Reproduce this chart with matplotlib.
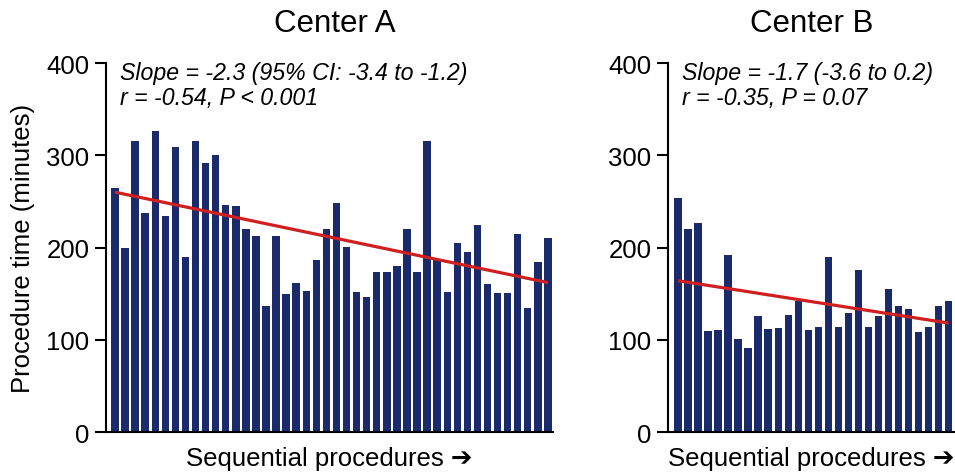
import matplotlib
matplotlib.use("Agg")
import matplotlib.pyplot as plt
import numpy as np

plt.rcParams['font.family'] = ['Liberation Sans', 'DejaVu Sans']

# Data
center_a = [265, 200, 316, 237, 326, 234, 309, 190, 316, 292, 300, 246, 245, 220,
            213, 137, 212, 150, 161, 153, 186, 220, 248, 201, 152, 146, 173, 173,
            180, 220, 173, 315, 188, 152, 205, 195, 224, 160, 151, 151, 215, 134,
            184, 210]
center_b = [254, 220, 227, 109, 111, 192, 101, 91, 126, 112, 113, 127, 142, 111,
            114, 190, 114, 129, 176, 114, 126, 155, 137, 133, 108, 114, 137, 142]

fit_a = (260, -2.28)   # intercept at first procedure, slope per procedure
fit_b = (164, -1.7)

titles = ["Center A", "Center B"]
notes = ["Slope = -2.3 (95% CI: -3.4 to -1.2)\nr = -0.54, P < 0.001",
         "Slope = -1.7 (-3.6 to 0.2)\nr = -0.35, P = 0.07"]
yticks = [0, 100, 200, 300, 400]
xlabel = "Sequential procedures \u2794"
ylabel = "Procedure time (minutes)"

bar_color = "#1b2a6b"
line_color = "#cf1f1f"

fig = plt.figure(figsize=(9.55, 4.77), dpi=100)
axA = fig.add_axes([0.111, 0.0922, 0.468, 0.7736])
axB = fig.add_axes([0.6995, 0.0922, 0.300, 0.7736])

for ax, data, fit, title, note, xl, nx in [
        (axA, center_a, fit_a, titles[0], notes[0], (-0.89, 43.5), 0.031),
        (axB, center_b, fit_b, titles[1], notes[1], (-1.0, 27.6), 0.049)]:
    x = np.arange(len(data))
    ax.bar(x, data, width=0.74, color=bar_color, edgecolor='none', zorder=2)
    fx = np.array([x[0], x[-1]])
    ax.plot(fx, fit[0] + fit[1] * (fx - x[0]), color=line_color, lw=2.3, zorder=3,
            solid_capstyle='butt')
    ax.set_xlim(*xl)
    ax.set_ylim(0, 400)
    ax.set_yticks(yticks)
    ax.set_xticks([])
    for s in ['top', 'right']:
        ax.spines[s].set_visible(False)
    for s in ['left', 'bottom']:
        ax.spines[s].set_linewidth(1.5)
        ax.spines[s].set_color('black')
    ax.tick_params(axis='y', direction='out', length=8, width=1.5, pad=4,
                   labelsize=18.5)
    ax.text(0.5 if ax is axB else 0.512, 1.0 + 32 / 369, title, transform=ax.transAxes,
            ha='center', va='baseline', fontsize=22.5)
    ax.text(nx, 1.005, note, transform=ax.transAxes, ha='left', va='top',
            fontsize=16.7, style='italic', linespacing=1.12)
    ax.set_xlabel(xlabel, fontsize=18.5, labelpad=10)

axA.set_ylabel(ylabel, fontsize=18.5, labelpad=8)

fig.savefig("out.png", dpi=100, facecolor='white')
